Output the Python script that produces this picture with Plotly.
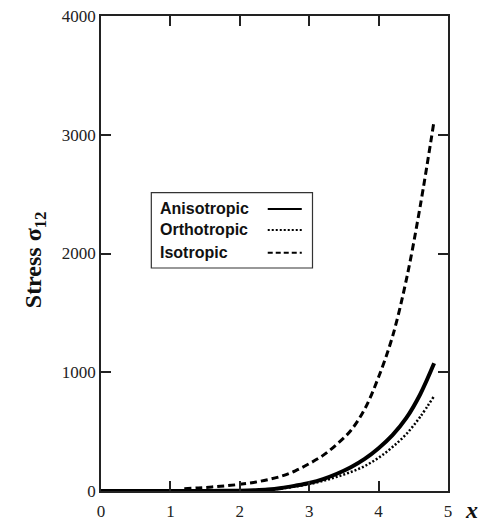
import plotly.graph_objects as go

x_vals = [0, 0.2, 0.4, 0.6, 0.8, 1.0, 1.2, 1.4, 1.6, 1.8, 2.0, 2.2, 2.4, 2.6,
          2.8, 3.0, 3.2, 3.4, 3.6, 3.8, 4.0, 4.2, 4.4, 4.6, 4.8]
anisotropic = [0, 0, 0, 0, 0, 0.1, 0.3, 0.6, 1, 2, 3, 6, 12, 25, 45, 68, 100,
               145, 200, 270, 360, 470, 615, 815, 1075]
orthotropic = [0, 0, 0, 0, 0, 0.1, 0.3, 0.5, 1, 2, 3, 5, 10, 21, 38, 58, 85,
               120, 160, 210, 280, 370, 480, 625, 800]
isotropic = [None, None, None, None, None, None, 20, 26, 34, 44, 56, 72, 95,
             125, 170, 230, 300, 395, 510, 690, 960, 1300, 1780, 2400, 3120]

x_ticks = [0, 1, 2, 3, 4, 5]
y_ticks = [0, 1000, 2000, 3000, 4000]
legend_names = ["Anisotropic", "Orthotropic", "Isotropic"]

fig = go.Figure()
fig.add_trace(go.Scatter(x=x_vals, y=isotropic, mode="lines", name="Isotropic",
                         line=dict(color="black", width=3, dash="7px,4px", shape="spline")))
fig.add_trace(go.Scatter(x=x_vals, y=orthotropic, mode="lines", name="Orthotropic",
                         line=dict(color="black", width=2.5, dash="2px,2px", shape="spline")))
fig.add_trace(go.Scatter(x=x_vals, y=anisotropic, mode="lines", name="Anisotropic",
                         line=dict(color="black", width=4, shape="spline")))

tick_font = dict(family="Liberation Serif, Times New Roman, serif", size=17, color="#222")

fig.update_layout(
    width=483, height=522,
    margin=dict(l=101, r=35, t=16, b=31, autoexpand=False),
    paper_bgcolor="white", plot_bgcolor="white",
    showlegend=False,
    xaxis=dict(range=[0, 5], tickvals=x_ticks, ticks="inside", ticklen=10,
               tickcolor="#222", tickwidth=1.5, showline=True, linecolor="#222",
               linewidth=1.5, mirror="ticks", showgrid=False, zeroline=False,
               tickfont=tick_font, ticklabelstandoff=4, automargin=False),
    yaxis=dict(range=[0, 4000], tickvals=y_ticks, ticks="inside", ticklen=10,
               tickcolor="#222", tickwidth=1.5, showline=True, linecolor="#222",
               linewidth=1.5, mirror="ticks", showgrid=False, zeroline=False,
               tickfont=tick_font, automargin=False),
)

# axis titles
fig.add_annotation(text="<b>Stress σ<sub>12</sub></b>", xref="paper", yref="paper",
                   x=-0.19, y=0.486, textangle=-90, showarrow=False,
                   xanchor="center", yanchor="middle",
                   font=dict(family="Liberation Serif, Times New Roman, serif", size=24, color="#111"))
fig.add_annotation(text="<b><i>x</i></b>", xref="paper", yref="paper",
                   x=1.068, y=-0.04, showarrow=False, xanchor="center", yanchor="middle",
                   borderpad=0,
                   font=dict(family="Liberation Serif, Times New Roman, serif", size=24, color="#111"))

# manual legend (text left, line sample right)
fig.add_shape(type="rect", xref="paper", yref="paper", x0=0.145, x1=0.6095,
              y0=0.4695, y1=0.628, line=dict(color="#333", width=1.2), fillcolor="white")
row_y = [0.5937, 0.5495, 0.5017]
dashes = ["solid", "2px,2px", "5px,3px"]
for name, yy, d in zip(legend_names, row_y, dashes):
    fig.add_annotation(text="<b>" + name + "</b>", xref="paper", yref="paper",
                       x=0.163, y=yy, showarrow=False, xanchor="left", yanchor="middle",
                       font=dict(family="Liberation Sans, Arial, sans-serif", size=16, color="#111"))
    fig.add_shape(type="line", xref="paper", yref="paper", x0=0.4805, x1=0.5786,
                  y0=yy, y1=yy, line=dict(color="black", width=2, dash=d))

fig.write_html("out.html")
